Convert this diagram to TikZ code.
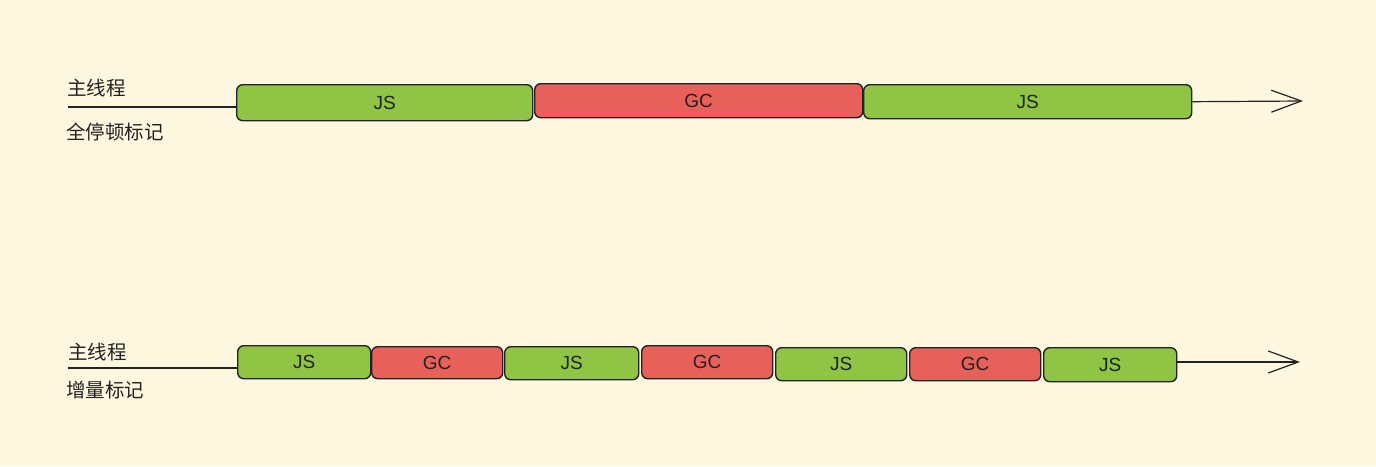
\documentclass[tikz,border=0pt]{standalone}
\usepackage{fontspec}
\setmainfont{Liberation Sans}
\newfontfamily\cjk{Noto Sans CJK SC}
\usetikzlibrary{arrows.meta}
\definecolor{bgc}{HTML}{FEF7E0}
\definecolor{jsg}{HTML}{8FC445}
\definecolor{gcr}{HTML}{E8605A}
\definecolor{ink}{HTML}{222222}
\tikzset{
  seg/.style={draw=ink, line width=1.4pt, rounded corners=6pt, inner sep=0pt, anchor=north west, font=\fontsize{19}{21}\selectfont, text=ink},
  jsbox/.style={seg, fill=jsg},
  gcbox/.style={seg, fill=gcr},
  lbl/.style={font=\cjk\fontsize{19.5}{22}\selectfont, text=ink, anchor=west, inner sep=0pt},
  tl/.style={draw=ink, line width=1.2pt},
  arr/.style={tl, -{Straight Barb[length=30pt,width=22pt,line width=1.2pt]}}
}
\begin{document}
\begin{tikzpicture}[x=1pt,y=-1pt]
\fill[bgc] (0,0) rectangle (1376,466);
\useasboundingbox (0,0) rectangle (1376,466);
% top row
\node[lbl] (t1) at (67,88) {主线程};
\node[lbl] (t2) at (66,132) {全停顿标记};
\coordinate (ts) at (68,107);
\node[jsbox, minimum width=296pt, minimum height=36pt] (a1) at (236,84) {JS};
\node[gcbox, minimum width=328pt, minimum height=34pt] (a2) at (534,83) {GC};
\node[jsbox, minimum width=328pt, minimum height=34pt] (a3) at (863,84) {JS};
\coordinate (te) at (1303,101);
\draw[tl] (ts) -- (a1.west |- ts);
\draw[arr] (a3.east) -- (te);
% bottom row
\node[lbl] (b1) at (68,352) {主线程};
\node[lbl] (b2) at (66,390) {增量标记};
\coordinate (bs) at (68,368);
\node[jsbox, minimum width=133pt, minimum height=33pt] (c1) at (237,345) {JS};
\node[gcbox, minimum width=131pt, minimum height=32pt] (c2) at (371,346) {GC};
\node[jsbox, minimum width=134pt, minimum height=33pt] (c3) at (504,346) {JS};
\node[gcbox, minimum width=131pt, minimum height=33pt] (c4) at (641,345) {GC};
\node[jsbox, minimum width=131pt, minimum height=33pt] (c5) at (775,347) {JS};
\node[gcbox, minimum width=131pt, minimum height=33pt] (c6) at (909,347) {GC};
\node[jsbox, minimum width=133pt, minimum height=34pt] (c7) at (1043,347) {JS};
\coordinate (be) at (1300,362);
\draw[tl] (bs) -- (c1.west |- bs);
\draw[arr] (c7.east |- be) -- (be);
\end{tikzpicture}
\end{document}
